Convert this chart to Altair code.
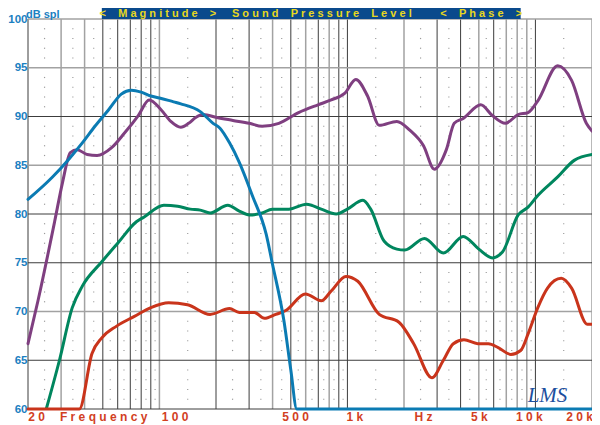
import altair as alt
import pandas as pd
import numpy as np

W, H = 564, 390

# ---- curve data (frequency in Hz, level in dB SPL) ----
purple_f = [20, 22.6, 27.7, 30.5, 33.6, 36.5, 41.3, 46.6, 55.7, 65.2, 77.2, 88.2, 102, 115, 130, 143, 156, 171,
            202, 246, 301, 352, 432, 550, 698, 820, 970, 1108, 1280, 1477, 1832, 2146, 2540, 2900, 3360, 3700,
            4130, 5120, 5900, 6920, 8100, 9140, 10300, 13140, 15580, 18660, 20000]
purple_db = [66.7, 71.1, 79.2, 83.2, 86.3, 86.6, 86.1, 86.0, 86.8, 88.3, 90.1, 91.7, 90.7, 89.5, 88.9, 89.3, 89.9, 90.2,
             89.9, 89.6, 89.3, 89.0, 89.3, 90.4, 91.2, 91.7, 92.4, 93.8, 92.1, 89.1, 89.5, 88.6, 87.0, 84.6, 86.6, 89.3,
             89.8, 91.2, 90.1, 89.3, 90.2, 90.4, 91.6, 95.2, 93.7, 89.3, 88.5]

teal_f = [25.1, 29.4, 34.4, 38.9, 49.4, 60.6, 75.4, 83, 105.6, 125, 146, 165, 186, 231, 266, 301, 352, 398, 488,
          606, 726, 872, 1000, 1210, 1330, 1570, 1832, 2020, 2570, 3240, 4130, 5000, 5900, 6680, 8100, 9140,
          10300, 13140, 16080, 20000]
teal_db = [60.1, 65.0, 70.4, 72.6, 75.1, 77.1, 79.2, 79.7, 80.9, 80.8, 80.5, 80.4, 80.1, 80.9, 80.3, 79.9, 80.1, 80.5, 80.5,
           81.0, 80.5, 80.0, 80.5, 81.4, 80.5, 77.2, 76.4, 76.3, 77.5, 76.0, 77.7, 76.4, 75.5, 76.1, 79.9, 80.7,
           81.9, 83.8, 85.5, 86.1]

red_f = [20, 37.5, 43.8, 49.4, 59.2, 73.6, 90, 112, 141, 186, 236, 266, 320, 362, 416, 470, 598, 726, 820, 982,
         1136, 1477, 1880, 2252, 2816, 3240, 3660, 4170, 4940, 5620, 6340, 7400, 8350, 9140, 10300, 11600, 13720,
         15580, 18880, 20000]
red_db = [60.0, 60.0, 65.7, 67.3, 68.5, 69.5, 70.4, 70.9, 70.7, 69.7, 70.3, 69.9, 69.9, 69.3, 69.7, 70.1, 71.8, 71.1, 72.1, 73.6,
          73.1, 69.7, 68.9, 66.7, 63.2, 65.0, 66.7, 67.1, 66.7, 66.7, 66.3, 65.6, 66.0, 67.7, 70.4, 72.4, 73.4,
          72.4, 68.7, 68.7]

blue_f = [20, 27, 32.9, 38.9, 45.4, 53.7, 62.7, 71, 80, 90, 100, 119, 130, 165, 193, 210, 236, 266, 312, 370, 398,
          460, 500, 538, 20000]
blue_db = [81.5, 83.8, 85.6, 87.3, 89.0, 90.7, 92.3, 92.7, 92.5, 92.1, 91.9, 91.5, 91.3, 90.5, 89.3, 88.8, 87.3, 85.3,
           81.9, 77.9, 75.0, 69.0, 64.0, 60.0, 60.0]

# ---- axis / decoration data ----
y_ticks = [60, 65, 70, 75, 80, 85, 90, 95, 100]
vgrid_dark = [20, 50, 60, 70, 80, 90, 200, 300, 500, 700, 900, 1000, 3000, 4000, 6000, 10000]
vgrid_gray = [30, 40, 100, 400, 600, 800, 2000, 5000, 7000, 8000, 9000, 20000]
hgrid_dark = [60, 65, 75, 80, 90]
hgrid_gray = [70, 85, 95, 100]

x_labels = ["20", "Frequency", "100", "500", "1k", "Hz", "5k", "10k", "20k"]
x_label_pos = [22.2, 50.5, 121, 530, 1094, 2540, 5030, 9280, 17160]

header_texts = ["< Magnitude >", "Sound Pressure Level", "< Phase >"]
header_pos = [98.2, 731, 5150]
header_band = [49.4, 8350]

C_PURPLE = "#7f3f80"
C_TEAL = "#00865e"
C_RED = "#c9341b"
C_BLUE = "#0b7bb3"
C_LABEL_BLUE = "#1a80c1"
C_LABEL_RED = "#d2401f"


def spaced(s):
    out = []
    for ch in s:
        if ch == " ":
            out.append("\u00a0\u00a0")
        else:
            out.append(ch)
    return "\u00a0".join(out)


xs = alt.Scale(type="log", domain=[20, 20000], nice=False)
ys = alt.Scale(domain=[60, 100], nice=False, zero=False)
y_axis = alt.Axis(values=y_ticks, labelFont="Liberation Sans", labelFontSize=11.5, labelFontWeight="bold",
                  labelColor=C_LABEL_BLUE, labelPadding=1, ticks=False, domain=False, grid=False, title=None)

# grid
vd = pd.DataFrame({"f": vgrid_dark})
vg = pd.DataFrame({"f": vgrid_gray})
hd = pd.DataFrame({"db": hgrid_dark})
hg = pd.DataFrame({"db": hgrid_gray})

all_v = sorted(set(vgrid_dark + vgrid_gray))
mids = [float(np.sqrt(a * b)) for a, b in zip(all_v[:-1], all_v[1:])]
rows = [d for d in range(61, 100) if d % 5]
dots = pd.DataFrame([(m, r) for m in mids for r in rows], columns=["f", "db"])

X = lambda: alt.X("f:Q", scale=xs, axis=None)
Y = lambda: alt.Y("db:Q", scale=ys, axis=y_axis)

dot_layer = alt.Chart(dots).mark_square(size=1.4, color="#8a8a8a", opacity=0.85).encode(x=X(), y=Y())
vgray_layer = alt.Chart(vg).mark_rule(color="#a2a2a2", strokeWidth=1.5).encode(x=X())
vdark_layer = alt.Chart(vd).mark_rule(color="#3c3c3c", strokeWidth=1).encode(x=X())
hgray_layer = alt.Chart(hg).mark_rule(color="#a2a2a2", strokeWidth=1.5).encode(y=Y())
hdark_layer = alt.Chart(hd).mark_rule(color="#3c3c3c", strokeWidth=1).encode(y=Y())


def curve(f, db, color):
    df = pd.DataFrame({"f": f, "db": db})
    return alt.Chart(df).mark_line(interpolate="monotone", strokeWidth=3, color=color,
                                   strokeCap="round", strokeJoin="round").encode(x=X(), y=Y())


purple = curve(purple_f, purple_db, C_PURPLE)
teal = curve(teal_f, teal_db, C_TEAL)
red = curve(red_f, red_db, C_RED)
blue = curve(blue_f, blue_db, C_BLUE)

# header band
band_df = pd.DataFrame({"f": [header_band[0]], "f2": [header_band[1]]})
band = alt.Chart(band_df).mark_rect(color="#0a4a8c").encode(
    x=alt.X("f:Q", scale=xs, axis=None), x2="f2:Q", y=alt.value(-11), y2=alt.value(0))
head_df = pd.DataFrame({"f": header_pos, "t": [spaced(t) for t in header_texts]})
head_text = alt.Chart(head_df).mark_text(font="Liberation Sans", fontSize=11, fontWeight="bold",
                                         color="#e8d81e", baseline="middle", align="center").encode(
    x=X(), y=alt.value(-5.5), text="t:N")

dbspl = alt.Chart(pd.DataFrame({"t": ["dB spl"]})).mark_text(
    font="Liberation Sans", fontSize=11, fontWeight="bold", color=C_LABEL_BLUE,
    align="left", baseline="alphabetic").encode(x=alt.value(-2), y=alt.value(-1.5), text="t:N")

xl_df = pd.DataFrame({"f": x_label_pos, "t": [spaced(t) for t in x_labels]})
x_text = alt.Chart(xl_df).mark_text(font="Liberation Sans", fontSize=12, fontWeight="bold",
                                    color=C_LABEL_RED, baseline="middle", align="center").encode(
    x=X(), y=alt.value(H + 8), text="t:N")

lms = alt.Chart(pd.DataFrame({"f": [11600], "db": [61.3], "t": ["LMS"]})).mark_text(
    font="Liberation Serif", fontSize=21, fontStyle="italic", color="#1d4f9e",
    align="center", baseline="middle").encode(x=X(), y=Y(), text="t:N")

chart = alt.layer(
    dot_layer, vgray_layer, vdark_layer, hgray_layer, hdark_layer,
    purple, teal, red, blue,
    band, head_text, dbspl, x_text, lms
).properties(
    width=W, height=H,
    padding={"left": 20, "top": 11, "right": 0, "bottom": 16},
    autosize="none",
    background="white",
).configure_view(stroke=None)

chart.save("out.html", embed_options={"renderer": "svg", "actions": False})
